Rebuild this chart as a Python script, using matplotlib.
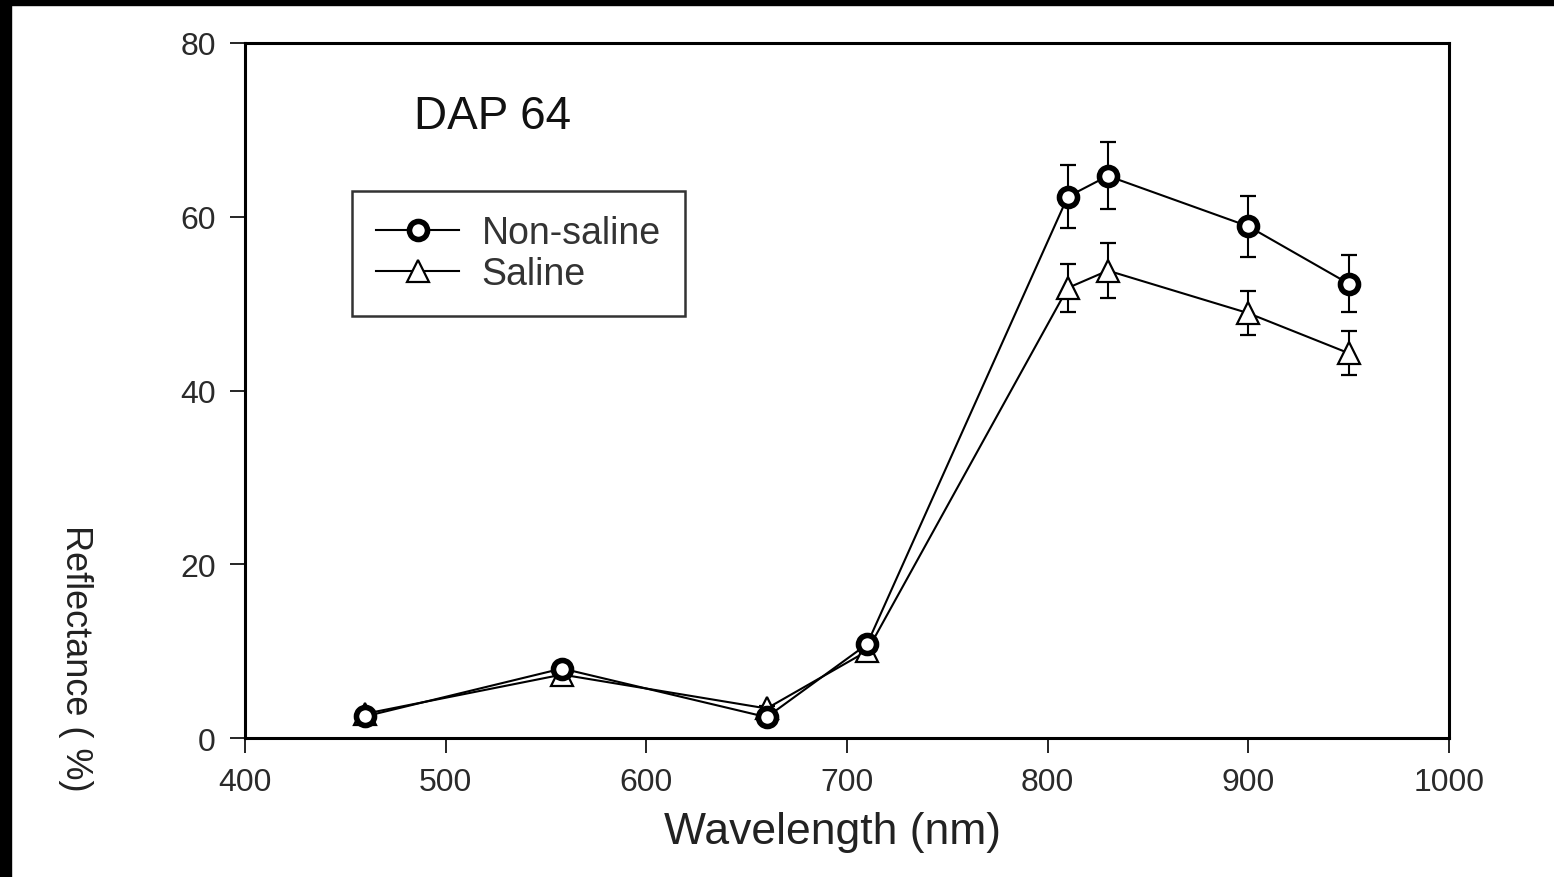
import matplotlib
matplotlib.use('Agg')
import matplotlib.pyplot as plt
from matplotlib.patches import Rectangle

plt.rcParams['font.family'] = ['Liberation Sans', 'DejaVu Sans']

# wavelengths (nm)
wavelength = [460, 558, 660, 710, 810, 830, 900, 950]

# reflectance (%)
non_saline = [2.5, 8.0, 2.4, 10.8, 62.3, 64.7, 58.9, 52.3]
non_saline_err = [0.3, 0.3, 0.3, 0.3, 3.6, 3.85, 3.5, 3.3]
saline = [2.8, 7.3, 3.4, 10.0, 51.8, 53.8, 48.9, 44.3]
saline_err = [0.3, 0.3, 0.3, 0.3, 2.8, 3.2, 2.5, 2.5]

x_ticks = [400, 500, 600, 700, 800, 900, 1000]
y_ticks = [0, 20, 40, 60, 80]

fig = plt.figure(figsize=(15.54, 8.78), dpi=100)
ax = fig.add_axes([0.1577, 0.1583, 0.9324 - 0.1577, 0.9499 - 0.1583])

# black scan border on left and top
fig.patches.append(Rectangle((0, 0), 11 / 1554, 1, transform=fig.transFigure,
                             color='black', zorder=10))
fig.patches.append(Rectangle((0, 1 - 6 / 878), 1, 6 / 878, transform=fig.transFigure,
                             color='black', zorder=10))

# error bars first, then lines + markers on top
ax.errorbar(wavelength, saline, yerr=saline_err, fmt='none', ecolor='black',
            elinewidth=1.5, capsize=6, capthick=1.6, zorder=1)
ax.errorbar(wavelength, non_saline, yerr=non_saline_err, fmt='none', ecolor='black',
            elinewidth=1.5, capsize=6, capthick=1.6, zorder=1)
l_sal, = ax.plot(wavelength, saline, color='black', lw=1.5, marker='^', ms=16,
                 mfc='white', mec='black', mew=1.6, zorder=2)
l_non, = ax.plot(wavelength, non_saline, color='black', lw=1.5, marker='o', ms=13,
                 mfc='white', mec='black', mew=4, zorder=3)

ax.set_xlim(400, 1000)
ax.set_ylim(0, 80)
ax.set_xticks(x_ticks)
ax.set_yticks(y_ticks)
ax.tick_params(direction='out', length=11, width=1.2, labelsize=23, pad=10,
               labelcolor='#2a2a2a', top=False, right=False)
for s in ax.spines.values():
    s.set_linewidth(2.2)

ax.set_xlabel('Wavelength (nm)', fontsize=32, color='#222222')
ax.xaxis.set_label_coords((832 - 245) / 1204, -(812 - 739) / 695)
ax.xaxis.label.set_va('top')
fig.text(75 / 1554, 1 - 658 / 878, 'Reflectance ( %)', rotation=-90,
         fontsize=26, color='#222222', ha='center', va='center')

ax.text(0.140, 0.895, 'DAP 64', transform=ax.transAxes, fontsize=33,
        ha='left', va='center', color='#111111')

leg = ax.legend([l_non, l_sal], ['Non-saline', 'Saline'], loc='upper left',
                bbox_to_anchor=(0.0889, 0.787), borderaxespad=0,
                fontsize=27, frameon=True, fancybox=False, edgecolor='black',
                handlelength=2.2, handletextpad=0.6, labelspacing=0.12,
                borderpad=0.65)
leg.get_frame().set_linewidth(1.8)
for t in leg.get_texts():
    t.set_color('#333333')

fig.savefig('out.png', dpi=100)
